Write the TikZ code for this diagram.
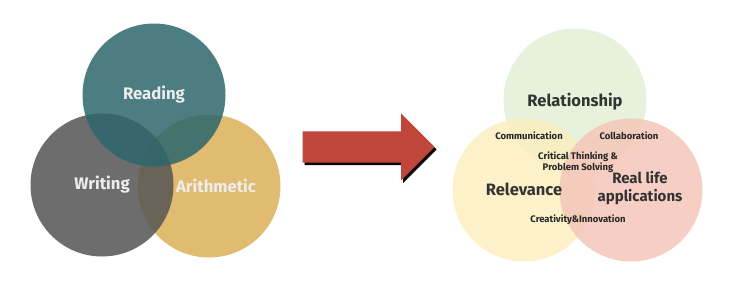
\documentclass[tikz,border=0pt]{standalone}
\usepackage{fontspec}
\setmainfont{Fira Sans}
\usepackage{xcolor}
\usetikzlibrary{positioning, shapes.arrows, shadows}

\definecolor{teal3r}{HTML}{2B666B}
\definecolor{gray3r}{HTML}{545454}
\definecolor{gold3r}{HTML}{DCAF56}
\definecolor{greenR}{HTML}{E3EED5}
\definecolor{yellowR}{HTML}{FCEEC0}
\definecolor{pinkR}{HTML}{F5C6B8}
\definecolor{arrowred}{HTML}{C0453A}

\begin{document}
\begin{tikzpicture}[x=1pt, y=-1pt,
		ring/.style={circle, draw=none, minimum size=143pt, inner sep=0pt, fill opacity=0.85},
		lighttext/.style={text=white!93!black, font=\bfseries\fontsize{16.7}{18}\selectfont},
		bigtext/.style={text=black!80, font=\bfseries\fontsize{16.5}{19}\selectfont, align=center},
		smalltext/.style={text=black!85, font=\bfseries\fontsize{9.5}{11}\selectfont, align=center}]
		\useasboundingbox (0,0) rectangle (743,295);
		
		% Three R's
		\node[ring, fill=gold3r] (arith) at (209,186) {};
		\node[ring, fill=gray3r] (writ) at (102,185) {};
		\node[ring, fill=teal3r] (read) at (154,95) {};
		\node[lighttext] at (read) {Reading};
		\node[lighttext] at (writ) {Writing};
		\node[lighttext] at ([xshift=7pt]arith.center) {Arithmetic};
		
		% Arrow
		\node[single arrow, fill=arrowred, minimum height=132pt, inner xsep=0pt, inner ysep=15.5pt,
			single arrow head extend=18pt, single arrow head indent=0pt, anchor=tip,
			drop shadow={shadow xshift=2pt, shadow yshift=-2.5pt, opacity=1, fill=black}]
			(shift) at (435,147) {};
		
		% New R's
		\node[ring, fill=greenR] (rel) at (575,100) {};
		\node[ring, fill=yellowR] (relev) at (524,190) {};
		\node[ring, fill=pinkR] (real) at (631,190) {};
		\node[bigtext] at ([yshift=-2pt]rel.center) {Relationship};
		\node[bigtext] at ([yshift=1pt]relev.center) {Relevance};
		\node[bigtext, font=\bfseries\fontsize{15}{18.5}\selectfont] at ([xshift=9pt, yshift=2pt]real.center) {Real life\\applications};
		
		% Skills
		\node[smalltext] (comm) at (529,136) {Communication};
		\node[smalltext] (coll) at (629,136) {Collaboration};
		\node[smalltext] (crit) at (578,162) {Critical Thinking \&\\Problem Solving};
		\node[smalltext] (crea) at (578,220) {Creativity\&Innovation};
	\end{tikzpicture}
\end{document}
